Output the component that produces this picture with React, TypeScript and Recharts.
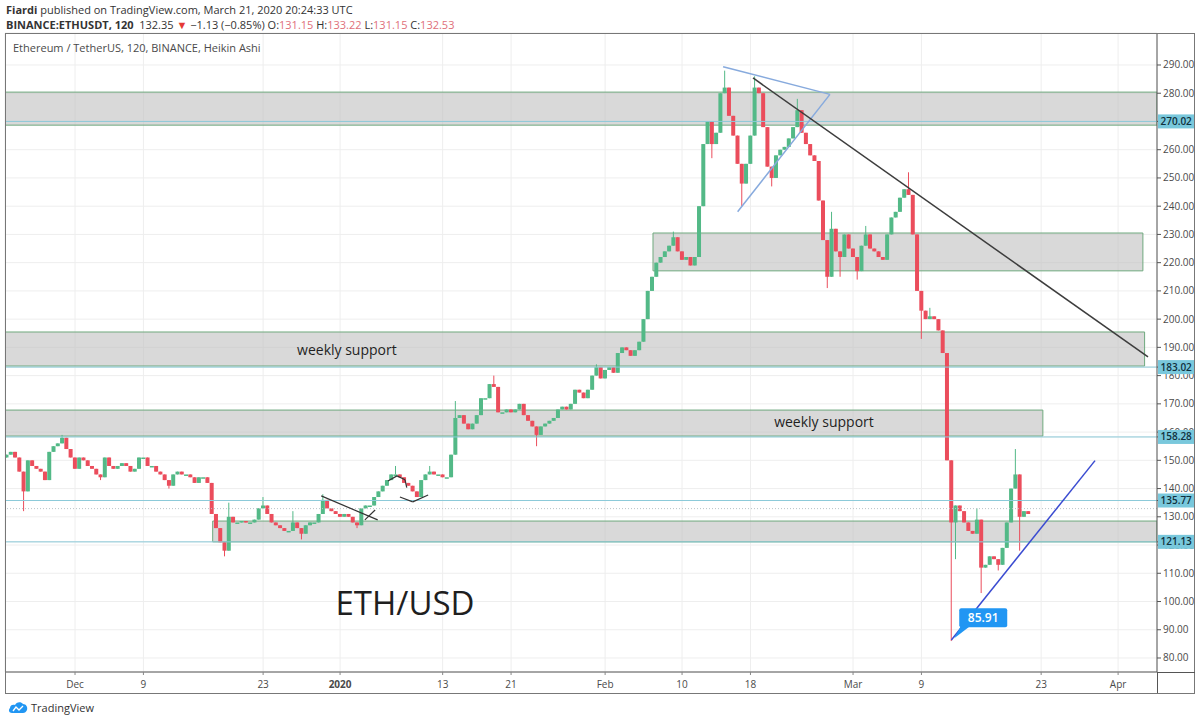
import React from "react";
import {
  ComposedChart,
  Bar,
  XAxis,
  YAxis,
  CartesianGrid,
  ReferenceArea,
  ReferenceLine,
  ReferenceDot,
} from "recharts";

// day 0 = Dec 1 2019, one candle every 12h
const START_DAY = -8;
const STEP = 0.5;
const FIRST_OPEN = 151;

const closes = [
  152, 153, 151, 146, 139, 150, 148, 147, 146, 143, 153, 155, 156, 158, 154, 151,
  147, 151, 150, 148, 147, 145, 144, 151, 148, 147, 148, 149, 148, 146, 147, 151,
  151, 148, 148, 146, 145, 143, 141, 145, 146, 145, 145, 144, 142, 144, 144, 142,
  131, 126, 121, 118, 130, 128, 128, 128.5, 128, 128, 129, 133, 134, 131, 128, 127,
  126, 125, 125, 128, 126, 124, 127, 128, 128, 131, 136, 133, 132, 131, 130, 131,
  130, 128, 127, 133, 134, 134, 137, 139, 141, 143, 145, 145, 144, 142, 141, 139,
  137, 143, 145, 146, 145, 145, 144, 144, 152, 165, 166, 163, 161, 163, 166, 172,
  172, 177, 176, 167, 167, 168, 167, 168, 170, 166, 164, 162, 159, 162, 163, 164,
  165, 168, 169, 168, 170, 175, 174, 172, 175, 180, 183, 179, 182, 183, 181, 188,
  190, 189, 187, 189, 192, 200, 210, 215, 220, 222, 224, 226, 229, 224, 221, 222,
  219, 222, 240, 262, 270, 262, 266, 280, 282, 272, 265, 255, 248, 255, 265, 282,
  280, 268, 254, 250, 258, 260, 261, 264, 268, 274, 266, 262, 258, 256, 242, 228,
  215, 232, 224, 222, 230, 225, 222, 217, 226, 230, 225, 224, 222, 221, 230, 236,
  238, 243, 246, 244, 230, 210, 203, 200, 201, 200, 196, 188, 150, 128, 134, 132,
  128, 125, 124, 129, 112, 113, 116, 115, 113, 119, 128, 140, 145, 130, 132, 131,
];

// [day, extreme price] for candles whose wick pokes out of the body
const wicks: [number, number][] = [
  [-6, 132], [-1.5, 159], [3, 143], [11, 140], [17.5, 116], [18, 135], [22, 137],
  [25.5, 132], [26.5, 122], [29, 138], [33, 126], [37.5, 148], [41.5, 148],
  [44.5, 171], [49, 180], [54, 155], [61, 184], [70, 231], [74.5, 257], [76, 288],
  [78, 240], [79.5, 286], [81.5, 247], [84.5, 278], [88, 211], [88.5, 238],
  [89.5, 215], [91.5, 214], [92.5, 233], [97.5, 252], [99, 193], [100, 204],
  [102.5, 86], [103, 115], [105.5, 133], [106, 103], [108, 111], [110, 154], [110.5, 118],
];

const dateTicks = [0, 8, 22, 31, 43, 51, 62, 71, 79, 91, 99, 113, 122];
const dateLabels = ["Dec", "9", "23", "2020", "13", "21", "Feb", "10", "18", "Mar", "9", "23", "Apr"];
const priceTicks = [80, 90, 100, 110, 120, 130, 140, 150, 160, 170, 180, 190, 200, 210, 220, 230, 240, 250, 260, 270, 280, 290];

// support / resistance boxes: [fromDay, toDay, low, high]
const zones: [number | undefined, number | undefined, number, number][] = [
  [undefined, undefined, 268.7, 280.4],
  [67.6, 124.9, 217.1, 230.5],
  [undefined, 125.1, 183.4, 195.45],
  [undefined, 113.2, 158.6, 167.8],
  [16.1, undefined, 121.13, 128.5],
];

// horizontal levels, tagged on the price scale
const levels = [270.02, 183.02, 158.28, 135.77, 121.13];
const lastPrice = 132.9;

const downTrend = [{ x: 79.3, y: 285.4 }, { x: 125.5, y: 186.6 }];
const triTop = [{ x: 75.8, y: 289.4 }, { x: 88.3, y: 279.6 }];
const triBottom = [{ x: 77.5, y: 238.05 }, { x: 88.3, y: 279.6 }];
const upTrend = [{ x: 102.5, y: 86.4 }, { x: 119.3, y: 149.9 }];

// small hand drawn marks around new year
const sketch: { x: number; y: number }[][] = [
  [{ x: 28.8, y: 137.4 }, { x: 35.4, y: 128.9 }],
  [{ x: 33.9, y: 128.9 }, { x: 35.1, y: 132.4 }],
  [{ x: 36.6, y: 142.7 }, { x: 37.66, y: 144.5 }],
  [{ x: 37.66, y: 144.5 }, { x: 38.6, y: 143.1 }],
  [{ x: 38.6, y: 143.1 }, { x: 38.8, y: 140.3 }],
  [{ x: 38.0, y: 137.0 }, { x: 39.5, y: 135.3 }],
  [{ x: 39.5, y: 135.3 }, { x: 41.3, y: 137.7 }],
];

const lowNote = { x: 102.6, y: 85.91, text: "85.91" };

const UP = "#53b987";
const DOWN = "#eb4d5c";
const FONT = "'Open Sans', 'Noto Sans', sans-serif";

const wickMap = new Map(wicks.map(([t, v]) => [t, v]));
const candles = closes.map((c, i) => {
  const t = START_DAY + i * STEP;
  const open = i === 0 ? FIRST_OPEN : closes[i - 1];
  let high = Math.max(open, c);
  let low = Math.min(open, c);
  const w = wickMap.get(t);
  if (w !== undefined) {
    if (w > high) high = w;
    if (w < low) low = w;
  }
  return { t, open, close: c, high, low, range: [low, high] };
});

// tags last so they paint over the plain labels
const yTicks = [...priceTicks, ...levels];

function Candle(props: any) {
  const { x, y, width, height, payload } = props;
  if (x == null || y == null) return null;
  const top = Math.min(y, y + height);
  const h = Math.abs(height);
  const { open, close, high, low } = payload;
  const span = high - low;
  const toY = (v: number) => (span === 0 ? top : top + ((high - v) / span) * h);
  const color = close >= open ? UP : DOWN;
  const cx = x + width / 2;
  const bTop = toY(Math.max(open, close));
  const bBot = toY(Math.min(open, close));
  return (
    <g>
      <line x1={cx} x2={cx} y1={top} y2={top + h} stroke={color} strokeWidth={1} />
      <rect x={x} y={bTop} width={width} height={Math.max(1.5, bBot - bTop)} fill={color} />
    </g>
  );
}

function DateTick({ x, y, payload }: any) {
  const i = dateTicks.indexOf(payload.value);
  const label = i >= 0 ? dateLabels[i] : "";
  return (
    <text x={x} y={y + 11} textAnchor="middle" fontSize={10} fill="#4a4a4a" fontFamily={FONT} fontWeight={label === "2020" ? 700 : 400}>
      {label}
    </text>
  );
}

function PriceTick({ x, y, payload }: any) {
  const v = payload.value;
  if (levels.includes(v)) {
    return (
      <g>
        <rect x={x - 5} y={y - 7} width={37} height={14} fill="#79c8dc" />
        <text x={x - 2.5} y={y + 3.5} fontSize={10} fontWeight={600} fill="#10313d" fontFamily={FONT}>
          {v.toFixed(2)}
        </text>
      </g>
    );
  }
  return (
    <text x={x} y={y + 3.5} fontSize={10} fill="#4a4a4a" fontFamily={FONT}>
      {v.toFixed(2)}
    </text>
  );
}

function ChartText({ cx, cy, text, size }: any) {
  return (
    <text x={cx} y={cy} textAnchor="middle" dominantBaseline="central" fontSize={size} fill="#1f1f1f" fontFamily={FONT}>
      {text}
    </text>
  );
}

function LowCallout({ cx, cy }: any) {
  return (
    <g>
      <polygon points={`${cx + 9},${cy - 16} ${cx + 19},${cy - 16} ${cx + 2},${cy - 3}`} fill="#2196f3" />
      <rect x={cx + 7} y={cy - 33} width={48} height={19} rx={2} fill="#2196f3" />
      <text x={cx + 31} y={cy - 19} textAnchor="middle" fontSize={12} fontWeight={600} fill="#fff" fontFamily={FONT}>
        {lowNote.text}
      </text>
    </g>
  );
}

const red = { color: "#e0707a" };

export default function App() {
  return (
    <div style={{ position: "absolute", left: 0, top: 0, width: 1200, height: 724, background: "#fff", overflow: "hidden", fontFamily: FONT }}>
      <div style={{ position: "absolute", left: 6, top: 2, fontSize: 11, color: "#333" }}>
        <b>Fiardi</b> published on TradingView.com, March 21, 2020 20:24:33 UTC
      </div>
      <div style={{ position: "absolute", left: 6, top: 17, fontSize: 11, color: "#333", whiteSpace: "pre" }}>
        <b>BINANCE:ETHUSDT, 120</b>
        {"  132.35 "}
        <span style={{ color: "#e53935" }}>▼</span>
        {" −1.13 (−0.85%) O:"}
        <span style={red}>131.15</span>
        {" H:"}
        <span style={red}>133.22</span>
        {" L:"}
        <span style={red}>131.15</span>
        {" C:"}
        <span style={red}>132.53</span>
      </div>

      <div style={{ position: "absolute", left: 0, top: 0 }}>
        <ComposedChart width={1200} height={724} data={candles} margin={{ top: 33, right: 5, bottom: 31, left: 5 }}>
          <CartesianGrid stroke="#eeeeee" />
          <XAxis
            dataKey="t"
            type="number"
            domain={[-8.19, 126.55]}
            allowDataOverflow
            ticks={dateTicks}
            tick={<DateTick />}
            tickSize={3}
            height={21}
            axisLine={{ stroke: "#555" }}
            tickLine={{ stroke: "#888" }}
          />
          <YAxis
            orientation="right"
            type="number"
            domain={[75.04, 301.33]}
            allowDataOverflow
            ticks={yTicks}
            interval={0}
            width={38}
            tickSize={4}
            tickMargin={2}
            tick={<PriceTick />}
            axisLine={{ stroke: "#555" }}
            tickLine={{ stroke: "#555" }}
          />
          <Bar dataKey="range" barSize={4} shape={<Candle />} isAnimationActive={false} />

          {zones.map(([x1, x2, y1, y2], i) => (
            <ReferenceArea
              key={`zone-${i}`}
              x1={x1}
              x2={x2}
              y1={y1}
              y2={y2}
              fill="#c0c0c0"
              fillOpacity={0.6}
              stroke="#6fa97e"
              strokeWidth={1}
              ifOverflow="hidden"
            />
          ))}

          <ReferenceLine y={lastPrice} stroke="#b9c4c8" strokeDasharray="1 2" />
          {levels.map((v) => (
            <ReferenceLine key={`lvl-${v}`} y={v} stroke="#8ccad9" strokeWidth={1} />
          ))}

          <ReferenceLine segment={triTop} stroke="#87aadd" strokeWidth={1.5} />
          <ReferenceLine segment={triBottom} stroke="#87aadd" strokeWidth={1.5} />
          <ReferenceLine segment={downTrend} stroke="#3d3d3d" strokeWidth={1.5} />
          <ReferenceLine segment={upTrend} stroke="#3b4cd1" strokeWidth={1.5} />
          {sketch.map((seg, i) => (
            <ReferenceLine key={`sk-${i}`} segment={seg} stroke="#333" strokeWidth={1.2} />
          ))}

          <ReferenceDot x={31.8} y={189.1} r={0} shape={(p: any) => <ChartText {...p} text="weekly support" size={14} />} />
          <ReferenceDot x={87.6} y={163.6} r={0} shape={(p: any) => <ChartText {...p} text="weekly support" size={14} />} />
          <ReferenceDot x={38.6} y={99.8} r={0} shape={(p: any) => <ChartText {...p} text="ETH/USD" size={33} />} />
          <ReferenceDot x={lowNote.x} y={lowNote.y} r={0} shape={(p: any) => <LowCallout {...p} />} />
        </ComposedChart>
      </div>

      <div style={{ position: "absolute", left: 13, top: 40, fontSize: 11, color: "#4a4a4a" }}>
        Ethereum / TetherUS, 120, BINANCE, Heikin Ashi
      </div>

      <div style={{ position: "absolute", left: 5, top: 33, width: 1190, height: 661, border: "1px solid #777", boxSizing: "border-box", pointerEvents: "none" }} />
      <div style={{ position: "absolute", left: 1157, top: 672, width: 1, height: 21, background: "#555" }} />
      <div style={{ position: "absolute", left: 1157, top: 672, width: 38, height: 1, background: "#555" }} />

      <div style={{ position: "absolute", left: 8, top: 700, display: "flex", alignItems: "center", fontSize: 11, color: "#333" }}>
        <svg width={20} height={13} viewBox="0 0 20 13">
          <path d="M4 12 C1 12 0 9 2 7 C2 4 5 3 7 4 C8 1 13 0 15 3 C18 3 20 6 19 9 C18 11 17 12 15 12 Z" fill="#2196f3" />
          <path d="M5 10 L8 6 L11 9 L15 5" stroke="#fff" strokeWidth={1.3} fill="none" />
        </svg>
        <span style={{ marginLeft: 3 }}>TradingView</span>
      </div>
    </div>
  );
}
